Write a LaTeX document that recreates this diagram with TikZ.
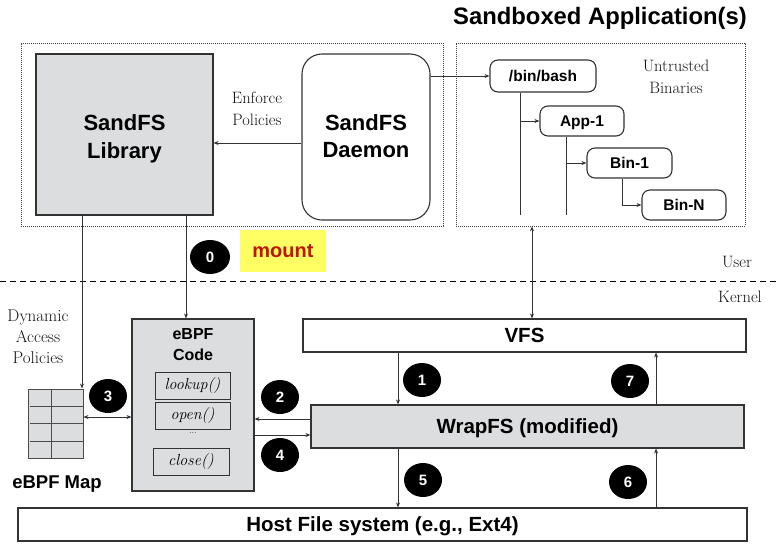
\documentclass[tikz,border=0pt]{standalone}
\usepackage{fontspec}
\setsansfont{Liberation Sans}
\usetikzlibrary{shapes.geometric,arrows.meta}
\definecolor{boxgray}{RGB}{220,221,223}
\definecolor{mountyellow}{RGB}{255,255,100}
\definecolor{mountred}{RGB}{190,20,0}
\newcommand{\myfs}[1]{\fontsize{#1}{#1}\selectfont}
\tikzset{
  bx/.style={draw=black!80, line width=1.1pt, inner sep=0pt, rectangle},
  grayfill/.style={fill=boxgray},
  dotbox/.style={draw=black!75, line width=0.7pt, dash pattern=on 0.8pt off 1.2pt, inner sep=0pt, rectangle},
  conn/.style={draw=black!80, line width=0.8pt},
  arr/.style={conn, -{Stealth[length=5pt,width=4pt]}},
  darr/.style={conn, {Stealth[length=5pt,width=4pt]}-{Stealth[length=5pt,width=4pt]}},
  num/.style={ellipse, fill=black, text=white, inner sep=0pt, minimum width=38pt, minimum height=34pt, font=\sffamily\bfseries\myfs{15}},
  bigtxt/.style={font=\sffamily\bfseries\myfs{22}, align=center, inner sep=0pt},
  midtxt/.style={font=\sffamily\bfseries\myfs{20.5}, text height=14.6pt, text depth=0pt},
  serif/.style={font=\rmfamily\myfs{16.5}, align=center, text=black!92},
  fn/.style={bx, line width=0.9pt, minimum width=75pt, minimum height=27pt, font=\rmfamily\itshape\myfs{16}},
  tree/.style={bx, rounded corners=8pt, minimum height=30pt, font=\sffamily\bfseries\myfs{15.5}, text height=11pt, text depth=0pt},
}
\begin{document}
\begin{tikzpicture}[x=1pt,y=-1pt]
\useasboundingbox (0,0) rectangle (776,552);
% title
\node[font=\sffamily\bfseries\myfs{23.8}] (title) at (600,18) {Sandboxed Application(s)};
% dotted user boxes
\node[dotbox, minimum width=422pt, minimum height=183pt] (userbox) at (232,134.5) {};
\node[dotbox, minimum width=289pt, minimum height=183pt] (appbox) at (600.5,134.5) {};
% SandFS library and daemon
\node[bx, grayfill, minimum width=177pt, minimum height=161pt] (lib) at (124.5,134.5) {};
\node[bigtxt] (libtxt) at (124.5,139) {SandFS\\[6pt]Library};
\node[bx, rounded corners=20pt, minimum width=128pt, minimum height=166pt] (daemon) at (366,137) {};
\node[bigtxt] (daemontxt) at (366,136) {SandFS\\[5pt]Daemon};
\node[serif] (enforce) at (257,109) {Enforce\\[5pt]Policies};
% tree of binaries
\node[tree, minimum width=106pt, minimum height=32pt] (bash) at (543,76) {/bin/bash};
\node[tree, minimum width=84pt] (app1) at (582,121) {App-1};
\node[tree, minimum width=85pt] (bin1) at (629.5,163) {Bin-1};
\node[tree, minimum width=84pt] (binN) at (684,205) {Bin-N};
\node[serif] (untrusted) at (676,77) {Untrusted\\[5pt]Binaries};
\coordinate (t1end) at (520,215);
\coordinate (t2end) at (566,215);
\draw[conn] (bash.south -| t1end) -- (t1end);
\draw[arr] (app1.west -| t1end) -- (app1.west);
\draw[conn] (app1.south -| t2end) -- (t2end);
\draw[arr] (bin1.west -| t2end) -- (bin1.west);
\draw[arr] (bin1.south -| 622,0) |- (binN.west);
% mount
\node[num, minimum width=40pt] (c0) at (210,257) {0};
\node[fill=mountyellow, minimum width=86pt, minimum height=42pt, inner sep=0pt, text=mountred, font=\sffamily\bfseries\myfs{20}] (mount) at (283,251) {mount};
% separator
\coordinate (sepL) at (0,281);
\coordinate (sepR) at (776,281);
\draw[black, line width=1pt, dash pattern=on 6pt off 4pt] (sepL) -- (sepR);
\node[serif] (user) at (737,262) {User};
\node[serif] (kernel) at (740,297) {Kernel};
% kernel boxes
\node[bx, minimum width=443pt, minimum height=33pt, midtxt] (vfs) at (524.5,335.5) {VFS};
\node[bx, grayfill, minimum width=433pt, minimum height=43pt, midtxt] (wrap) at (527.5,426.5) {WrapFS (modified)};
\node[bx, minimum width=729pt, minimum height=33pt, midtxt] (host) at (382.5,524.5) {Host File system (e.g., Ext4)};
% eBPF code
\node[bx, grayfill, minimum width=122pt, minimum height=172pt] (code) at (193,405) {};
\node[font=\sffamily\bfseries\myfs{16}, align=center] (codelbl) at (193,345) {eBPF\\[5pt]Code};
\node[fn] (lookup) at (192.5,385.5) {lookup()};
\node[fn] (open) at (192.5,415.5) {open()};
\node[font=\rmfamily\myfs{9}] (dots) at (193,433) {...};
\node[fn, minimum width=76pt] (close) at (191,461.5) {close()};
% eBPF map
\node[rectangle, draw=black!70, line width=0.9pt, fill=boxgray, minimum width=55pt, minimum height=69pt, inner sep=0pt] (map) at (55.5,423.5) {};
\draw[black!70, line width=0.9pt] (map.north -| 51,0) -- (map.south -| 51,0);
\foreach \yy in {406,423,441} \draw[black!70, line width=0.9pt] (30,\yy) -- (map.east |- 0,\yy);
\node[font=\sffamily\bfseries\myfs{18.5}] (maplbl) at (57,484) {eBPF Map};
\node[serif, font=\rmfamily\myfs{17}] (dyn) at (38,337) {Dynamic\\[4pt]Access\\[4pt]Policies};
% connectors
\draw[arr] (daemon.west |- 0,143) -- (lib.east |- 0,143);
\draw[arr] (daemon.east |- bash.west) -- (bash.west);
\draw[arr] (lib.south -| 82,0) -- (map.north -| 82,0);
\draw[arr] (lib.south -| 186,0) -- (code.north -| 186,0);
\draw[darr] (map.east |- 0,417) -- (code.west |- 0,417);
\draw[arr] (wrap.west |- 0,419) -- (code.east |- 0,419);
\draw[arr] (code.east |- 0,435) -- (wrap.west |- 0,435);
\draw[darr] (appbox.south -| 532,0) -- (vfs.north -| 532,0);
\draw[arr] (vfs.south -| 398,0) -- (wrap.north -| 398,0);
\draw[arr] (wrap.south -| 398,0) -- (host.north -| 398,0);
\draw[arr] (host.north -| 656,0) -- (wrap.south -| 656,0);
\draw[arr] (wrap.north -| 656,0) -- (vfs.south -| 656,0);
% numbers
\node[num] (c1) at (422,380) {1};
\node[num] (c2) at (280,397) {2};
\node[num] (c3) at (108,396) {3};
\node[num] (c4) at (280,455) {4};
\node[num] (c5) at (423,480) {5};
\node[num] (c6) at (628,482) {6};
\node[num] (c7) at (630,381) {7};
\end{tikzpicture}
\end{document}
